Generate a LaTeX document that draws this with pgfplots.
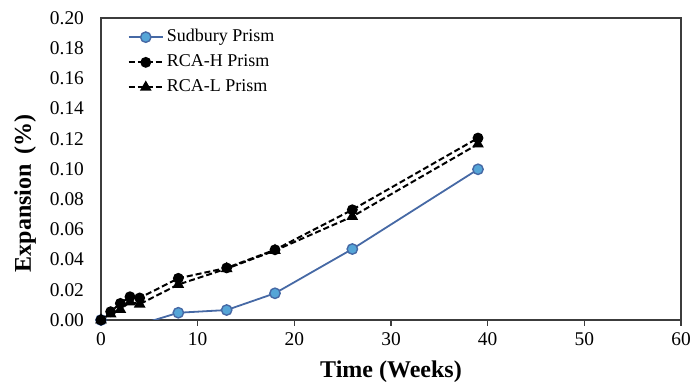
\documentclass[border=0pt]{standalone}
\usepackage{fontspec}
\setmainfont{Liberation Serif}
\usepackage{pgfplots}
\pgfplotsset{compat=1.18}
\definecolor{sudline}{RGB}{70,105,165}
\definecolor{sudfill}{RGB}{85,165,215}
\definecolor{axgray}{RGB}{60,60,60}
\begin{document}
\begin{tikzpicture}
\begin{axis}[
  scale only axis,
  width=290pt, height=151pt,
  xmin=0, xmax=60, ymin=0, ymax=0.2,
  xtick={0,10,...,60},
  ytick={0,0.02,...,0.2},
  yticklabel style={/pgf/number format/fixed, /pgf/number format/fixed zerofill, /pgf/number format/precision=2, xshift=-2pt},
  /pgf/number format/assume math mode=true,
  tick label style={font=\fontsize{9.7}{12}\selectfont},
  xlabel={\textbf{Time (Weeks)}},
  ylabel={\textbf{Expansion\ \,(\%)}},
  label style={font=\fontsize{12}{14}\selectfont},
  xlabel style={at={(axis description cs:0.5,-0.172)}, anchor=center},
  ylabel style={at={(axis description cs:-0.131,0.42)}, anchor=center},
  axis line style={axgray, line width=0.8pt},
  tick style={axgray, line width=0.6pt},
  tick align=outside,
  xtick pos=bottom, ytick pos=left,
  major tick length=3pt,
  ytick style={draw=none},
  legend style={draw=none, fill=none, at={(0.035,0.99)}, anchor=north west,
    font=\fontsize{9}{10.5}\selectfont, row sep=1pt, nodes={inner xsep=1.5pt}},
  legend cell align=left,
]
\addplot[sudline, line width=0.9pt, mark=*, mark size=2.6pt,
  mark options={fill=sudfill, draw=sudline, line width=0.7pt, solid}]
  coordinates {(0,0) (4,-0.003) (8,0.0048) (13,0.0066) (18,0.0177) (26,0.047) (39,0.0998)};
\addlegendentry{Sudbury Prism}
\addplot[black, line width=1pt, dash pattern=on 3pt off 1.5pt, mark=*, mark size=2.2pt,
  mark options={solid, fill=black}]
  coordinates {(0,0) (1,0.0055) (2,0.011) (3,0.0154) (4,0.0146) (8,0.0276) (13,0.0345) (18,0.0465) (26,0.073) (39,0.1205)};
\addlegendentry{RCA-H Prism}
\addplot[black, line width=1pt, dash pattern=on 3pt off 1.5pt, mark=triangle*, mark size=2.4pt,
  mark options={solid, fill=black}]
  coordinates {(0,0) (1,0.004) (2,0.007) (3,0.012) (4,0.0105) (8,0.0235) (13,0.034) (18,0.046) (26,0.0685) (39,0.1165)};
\addlegendentry{RCA-L Prism}
\end{axis}
\pgfresetboundingbox
\path (current axis.south west) ++(-50.5pt,-31pt) coordinate (bbsw);
\path (current axis.north east) ++(5pt,9pt) coordinate (bbne);
\path[use as bounding box] (bbsw) rectangle (bbne);
\end{tikzpicture}
\end{document}
